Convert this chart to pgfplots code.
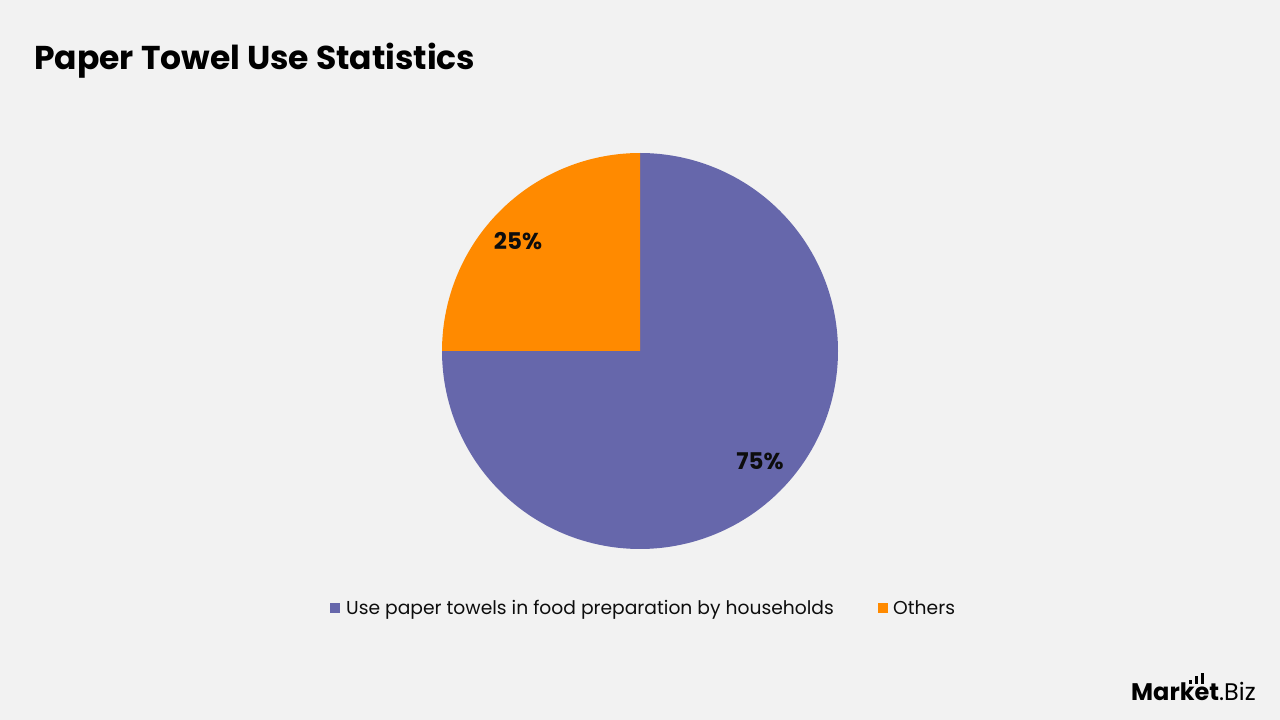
\documentclass[border=0pt]{standalone}
\usepackage{pgfplots}
\pgfplotsset{compat=1.18}
\usepackage{fontspec}
\setmainfont{Poppins}
\definecolor{bg}{HTML}{F2F2F2}
\definecolor{purp}{HTML}{6667AB}
\definecolor{orng}{HTML}{FF8A00}
\definecolor{txt}{HTML}{0D0D0D}
\begin{document}
\begin{tikzpicture}[x=1pt,y=1pt]
\fill[bg] (0,0) rectangle (1280,720);
% title
\node[anchor=base west, inner sep=0, text=black] at (34,650) {\fontsize{33}{38}\selectfont\bfseries Paper Towel Use Statistics};
\begin{axis}[
  at={(640pt,369pt)}, anchor=center,
  width=396pt, height=396pt, scale only axis,
  xmin=-1, xmax=1, ymin=-1, ymax=1,
  hide axis, clip=false,
]
% values: 75 (households), 25 (others); start at 90 deg, clockwise
\def\vA{75}
\def\vB{25}
\pgfmathsetmacro{\aS}{90}
\pgfmathsetmacro{\aE}{90-\vA*3.6}
\pgfmathsetmacro{\bE}{\aE-\vB*3.6}
\addplot[fill=purp, draw=none, domain=\aE:\aS, samples=181, variable=\t]
  ({cos(\t)},{sin(\t)}) -- (axis cs:0,0) -- cycle;
\addplot[fill=orng, draw=none, domain=\bE:\aE, samples=61, variable=\t]
  ({cos(\t)},{sin(\t)}) -- (axis cs:0,0) -- cycle;
\node[text=txt, font=\fontsize{23}{26}\selectfont\bfseries] at (axis cs:0.606,-0.556) {75\%};
\node[text=txt, font=\fontsize{23}{26}\selectfont\bfseries] at (axis cs:-0.616,0.556) {25\%};
\end{axis}
% legend
\fill[purp] (330,107) rectangle (340,117);
\node[anchor=base west, inner sep=0, text=txt] at (346,105) {\fontsize{18.7}{22}\selectfont Use paper towels in food preparation by households};
\fill[orng] (878,107) rectangle (888,117);
\node[anchor=base west, inner sep=0, text=txt] at (893,105) {\fontsize{18.7}{22}\selectfont Others};
% logo
\node[anchor=base west, inner sep=0, text=black] at (1131,19) {\fontsize{24}{28}\selectfont\bfseries Market\textmd{.Biz}};
\fill[black] (1189,36) rectangle (1192,40);
\fill[black] (1195,36) rectangle (1198,44);
\fill[black] (1201,36) rectangle (1204,47);
\end{tikzpicture}
\end{document}
